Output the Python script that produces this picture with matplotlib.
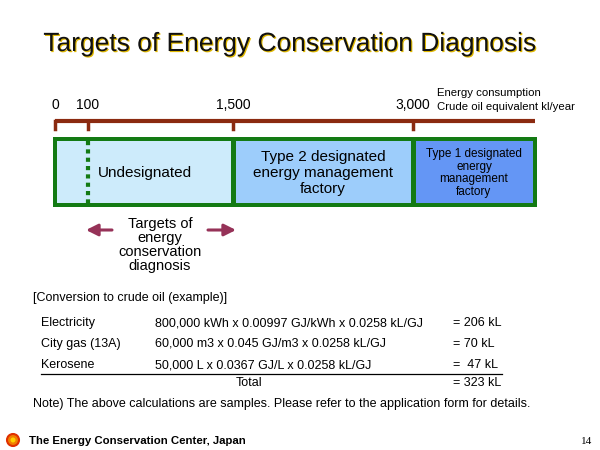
import matplotlib
matplotlib.use("Agg")
import matplotlib.pyplot as plt
from matplotlib.patches import Rectangle, Circle
import matplotlib.patheffects as pe

thresholds = [0, 100, 1500, 3000]
threshold_labels = ["0", "100", "1,500", "3,000"]
threshold_px = [55, 88, 233, 413]
categories = ["Undesignated", "Type 2 designated\nenergy management\nfactory",
              "Type 1 designated\nenergy\nmanagement\nfactory"]
cat_colors = ["#cdebfb", "#9dcdfb", "#6496f5"]
rows = [("Electricity", "800,000 kWh x 0.00997 GJ/kWh x 0.0258 kL/GJ", "= 206 kL"),
        ("City gas (13A)", "60,000 m3 x 0.045 GJ/m3 x 0.0258 kL/GJ", "= 70 kL"),
        ("Kerosene", "50,000 L x 0.0367 GJ/L x 0.0258 kL/GJ", "=  47 kL")]
total = "= 323 kL"

fig = plt.figure(figsize=(6, 4.5), dpi=100)
ax = fig.add_axes([0, 0, 1, 1])
ax.set_xlim(0, 600); ax.set_ylim(450, 0); ax.axis("off")
F = "Liberation Sans"

t = ax.text(290, 44, "Targets of Energy Conservation Diagnosis", ha="center", va="center",
            fontsize=19, family=F, color="#111111")
t.set_path_effects([pe.SimplePatchShadow(offset=(0.8, -0.8), shadow_rgbFace="#e0b800", alpha=1), pe.Normal()])

brown = "#8b2a10"
ax.plot([55, 535], [121, 121], color=brown, lw=3, solid_capstyle="butt")
for lab, x in zip(threshold_labels, threshold_px):
    ax.plot([x, x], [121, 129], color=brown, lw=2.5)
    ax.text(x, 105, lab, ha="center", va="center", fontsize=10, family=F)
ax.text(437, 93, "Energy consumption", ha="left", va="center", fontsize=8.2, family=F)
ax.text(437, 107, "Crude oil equivalent kl/year", ha="left", va="center", fontsize=8.2, family=F)

edges = [threshold_px[0], threshold_px[2], threshold_px[3], 535]
ax.add_patch(Rectangle((53, 137), 484, 70, facecolor="#137a13", edgecolor="none"))
for i in range(3):
    x0 = edges[i] + 2 + (1 if i else 0); x1 = edges[i + 1] - 2
    ax.add_patch(Rectangle((x0, 141), x1 - x0, 62, facecolor=cat_colors[i], edgecolor="none"))
ax.text(145, 173, categories[0], ha="center", va="center", fontsize=11, family=F)
ax.text(323, 173, categories[1], ha="center", va="center", fontsize=11, family=F, linespacing=1.15)
ax.text(474, 173, categories[2], ha="center", va="center", fontsize=8.5, family=F, linespacing=1.1)
ax.plot([88, 88], [141, 203], color="#137a13", lw=3, ls=(0, (1, 1)))

purple = "#963258"
for a, b in [(112, 86), (208, 236)]:
    ax.annotate("", xy=(b, 230), xytext=(a, 230),
                arrowprops=dict(arrowstyle="-|>,head_length=0.7,head_width=0.35", color=purple, lw=2.2,
                                shrinkA=0, shrinkB=0))
ax.text(160, 245, "Targets of\nenergy\nconservation\ndiagnosis", ha="center", va="center",
        fontsize=10.5, family=F, linespacing=1.0)

ax.text(33, 298, "[Conversion to crude oil (example)]", ha="left", va="center", fontsize=9, family=F)
ys = [323, 344, 365]
for y, (a, b, c) in zip(ys, rows):
    ax.text(41, y, a, ha="left", va="center", fontsize=9, family=F)
    ax.text(155, y, b, ha="left", va="center", fontsize=9, family=F)
    ax.text(453, y, c, ha="left", va="center", fontsize=9, family=F)
ax.plot([41, 502], [374, 374], color="black", lw=0.9)
ax.text(249, 383, "Total", ha="center", va="center", fontsize=9, family=F)
ax.text(453, 383, total, ha="left", va="center", fontsize=9, family=F)
ax.text(33, 404, "Note) The above calculations are samples. Please refer to the application form for details.",
        ha="left", va="center", fontsize=9, family=F)

ax.add_patch(Circle((13, 440), 6, facecolor="#f08000", edgecolor="#e03000", lw=1.5))
ax.add_patch(Circle((13, 440), 2.5, facecolor="#ffd000", edgecolor="none"))
ax.text(29, 441, "The Energy Conservation Center, Japan", ha="left", va="center", fontsize=8.2,
        family=F, weight="bold")
ax.text(587, 441, "14", ha="center", va="center", fontsize=8, family="Liberation Serif")

fig.savefig("out.png", dpi=100)
